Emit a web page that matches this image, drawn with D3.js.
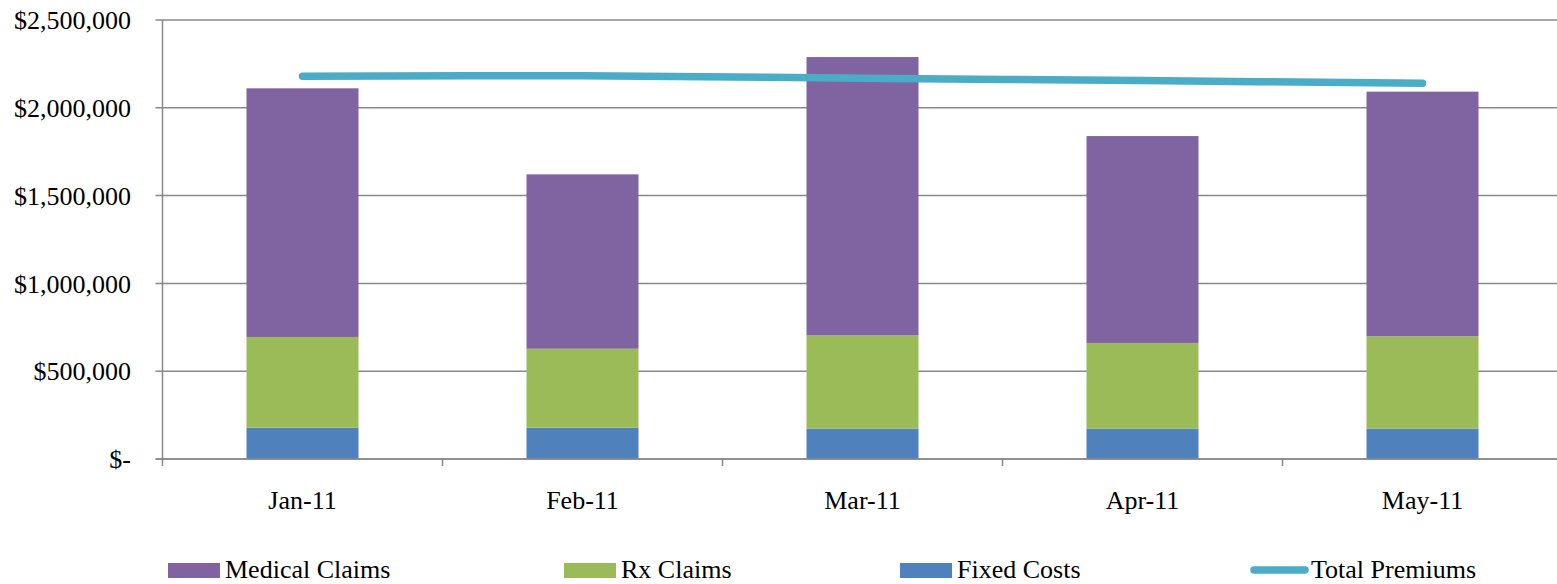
<!DOCTYPE html>
<html>
<head>
<meta charset="utf-8">
<script src="https://cdn.jsdelivr.net/npm/d3@7"></script>
<style>
  html, body { margin: 0; padding: 0; background: #fff; }
  svg { display: block; }
  text { font-family: "Liberation Serif", "Times New Roman", serif; fill: #000; }
</style>
</head>
<body>
<svg id="chart" width="1557" height="584"></svg>
<script>
// Monthly cost components and premiums (USD)
const months = ["Jan-11", "Feb-11", "Mar-11", "Apr-11", "May-11"];
const fixedCosts    = [178000, 178000, 173000, 173000, 173000];
const rxClaims      = [517000, 450000, 531000, 488000, 526000];
const medicalClaims = [1416000, 993000, 1585000, 1178000, 1393000];
const totalPremiums = [2180000, 2183000, 2168000, 2155000, 2140000];
const yTicks = [0, 500000, 1000000, 1500000, 2000000, 2500000];

const seriesNames  = ["Fixed Costs", "Rx Claims", "Medical Claims"];
const seriesColors = ["#4F81BD", "#9BBB59", "#8064A2"];
const lineColor = "#4BACC6";

const svg = d3.select("#chart");
const plotLeft = 162.5, plotRight = 1562.5, plotTop = 20, plotBottom = 459;

const x = d3.scaleBand().domain(months).range([plotLeft, plotRight])
  .paddingInner(0.6).paddingOuter(0.3);
const y = d3.scaleLinear().domain([0, 2500000]).range([plotBottom, plotTop]);

// Horizontal gridlines
svg.append("g").selectAll("line").data(yTicks).join("line")
  .attr("x1", plotLeft - 7).attr("x2", plotRight)
  .attr("y1", d => y(d)).attr("y2", d => y(d))
  .attr("stroke", "#898989").attr("stroke-width", 1.5);

// Y axis labels
const money = d3.format(",");
svg.append("g").selectAll("text").data(yTicks).join("text")
  .attr("x", 131).attr("y", d => y(d)).attr("dy", "0.35em")
  .attr("text-anchor", "end").attr("font-size", 26)
  .text(d => d === 0 ? "$-" : "$" + money(d));

// Stacked bars
const rows = months.map((m, i) => ({
  month: m,
  "Fixed Costs": fixedCosts[i],
  "Rx Claims": rxClaims[i],
  "Medical Claims": medicalClaims[i]
}));
const stack = d3.stack().keys(seriesNames)(rows);

svg.append("g").selectAll("g").data(stack).join("g")
  .attr("fill", (d, i) => seriesColors[i])
  .selectAll("rect").data(d => d).join("rect")
  .attr("x", d => x(d.data.month))
  .attr("width", x.bandwidth())
  .attr("y", d => y(d[1]))
  .attr("height", d => y(d[0]) - y(d[1]));

// Axis lines and tick marks
svg.append("line").attr("x1", plotLeft).attr("x2", plotLeft)
  .attr("y1", plotTop).attr("y2", plotBottom + 7)
  .attr("stroke", "#898989").attr("stroke-width", 1.5);
svg.append("line").attr("x1", plotLeft - 7).attr("x2", plotRight)
  .attr("y1", plotBottom).attr("y2", plotBottom)
  .attr("stroke", "#898989").attr("stroke-width", 1.5);
const boundaries = months.slice(1).map(m => x(m) - x.step() * x.paddingInner() / 2);
svg.append("g").selectAll("line").data(boundaries).join("line")
  .attr("x1", d => d).attr("x2", d => d)
  .attr("y1", plotBottom).attr("y2", plotBottom + 7)
  .attr("stroke", "#898989").attr("stroke-width", 1.5);

// X axis labels
svg.append("g").selectAll("text").data(months).join("text")
  .attr("x", d => x(d) + x.bandwidth() / 2).attr("y", 509)
  .attr("text-anchor", "middle").attr("font-size", 26)
  .text(d => d);

// Total premiums line
const line = d3.line()
  .x((d, i) => x(months[i]) + x.bandwidth() / 2)
  .y(d => y(d))
  .curve(d3.curveCatmullRom.alpha(0.5));
svg.append("path").datum(totalPremiums)
  .attr("d", line).attr("fill", "none")
  .attr("stroke", lineColor).attr("stroke-width", 7.5)
  .attr("stroke-linecap", "round").attr("stroke-linejoin", "round");

// Legend
const legend = svg.append("g");
const legendItems = [
  { name: "Medical Claims", color: seriesColors[2], x: 168, type: "rect" },
  { name: "Rx Claims", color: seriesColors[1], x: 564, type: "rect" },
  { name: "Fixed Costs", color: seriesColors[0], x: 900, type: "rect" },
  { name: "Total Premiums", color: lineColor, x: 1250, type: "line" }
];
legendItems.forEach(it => {
  if (it.type === "rect") {
    legend.append("rect").attr("x", it.x).attr("y", 563)
      .attr("width", 52).attr("height", 15).attr("fill", it.color);
  } else {
    legend.append("line").attr("x1", it.x + 4).attr("x2", it.x + 55)
      .attr("y1", 570).attr("y2", 570)
      .attr("stroke", it.color).attr("stroke-width", 7.5)
      .attr("stroke-linecap", "round");
  }
  legend.append("text").attr("x", it.x + (it.type === "rect" ? 57 : 61)).attr("y", 578)
    .attr("font-size", 26).text(it.name);
});
</script>
</body>
</html>
